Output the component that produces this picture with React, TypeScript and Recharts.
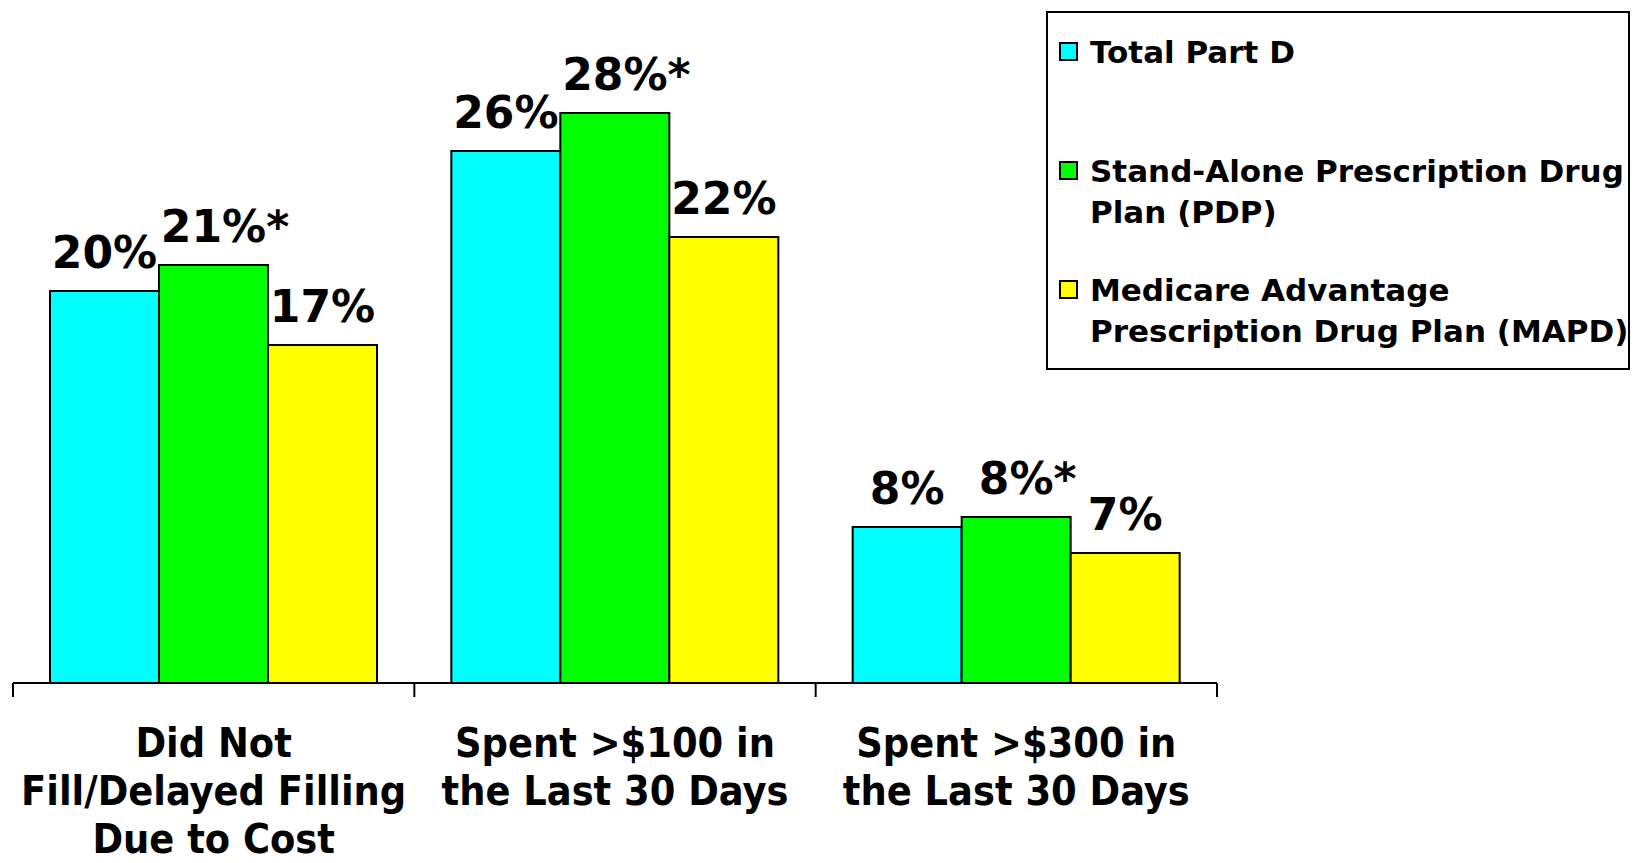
import { BarChart, Bar, XAxis, YAxis, Legend, LabelList } from 'recharts';

const categories = [
    'Did Not Fill/Delayed Filling Due to Cost',
    'Spent >$100 in the Last 30 Days',
    'Spent >$300 in the Last 30 Days',
];
const categoryLines = [
    ['Did Not', 'Fill/Delayed Filling', 'Due to Cost'],
    ['Spent >$100 in', 'the Last 30 Days'],
    ['Spent >$300 in', 'the Last 30 Days'],
];

// bar heights (percent)
const totalPartD = [19.6, 26.6, 7.8];
const standAlonePdp = [20.9, 28.5, 8.3];
const mapd = [16.9, 22.3, 6.5];

// printed labels
const totalLabels = ['20%', '26%', '8%'];
const pdpLabels = ['21%*', '28%*', '8%*'];
const mapdLabels = ['17%', '22%', '7%'];

const seriesNames = [
    'Total Part D',
    'Stand-Alone Prescription Drug Plan (PDP)',
    'Medicare Advantage Prescription Drug Plan (MAPD)',
];
const legendLines = [
    ['Total Part D'],
    ['Stand-Alone Prescription Drug', 'Plan (PDP)'],
    ['Medicare Advantage', 'Prescription Drug Plan (MAPD)'],
];

const COLORS = ['#00FFFF', '#00FF00', '#FFFF00'];

const data = categories.map((name, i) => ({
    name,
    total: totalPartD[i],
    pdp: standAlonePdp[i],
    mapd: mapd[i],
    totalLabel: totalLabels[i],
    pdpLabel: pdpLabels[i],
    mapdLabel: mapdLabels[i],
}));

const LABEL_FONT = 44;
const AXIS_FONT = "'DejaVu Sans Condensed', 'DejaVu Sans', sans-serif";

// rough width of a label like "21%" in DejaVu Sans Bold
function labelWidth(s: string) {
    let w = 0;
    for (const ch of s) w += ch === '%' ? 1.002 : 0.696;
    return w * LABEL_FONT;
}

function BarValueLabel(props: any) {
    const { x, y, width, value } = props;
    const s = String(value);
    const star = s.endsWith('*');
    const main = star ? s.slice(0, -1) : s;
    const cx = Number(x) + Number(width) / 2;
    const ty = Number(y) - 23;
    const style = { fontFamily: "'DejaVu Sans', sans-serif", fontWeight: 700, fontSize: LABEL_FONT, fill: '#000' };
    return (
        <g>
            <text x={cx} y={ty} textAnchor="middle" style={style}>{main}</text>
            {star && <text x={cx + labelWidth(main) / 2} y={ty} textAnchor="start" style={style}>*</text>}
        </g>
    );
}

function CategoryTick(props: any) {
    const { x, y, payload, index, visibleTicksCount } = props;
    const half = payload && payload.offset ? payload.offset : 200.7;
    const idx = categories.indexOf(payload.value);
    const lines = categoryLines[idx >= 0 ? idx : index] || [];
    return (
        <g>
            <line x1={x - half} x2={x - half} y1={y} y2={y + 14} stroke="#000" strokeWidth={2} />
            {index === visibleTicksCount - 1 && (
                <line x1={x + half} x2={x + half} y1={y} y2={y + 14} stroke="#000" strokeWidth={2} />
            )}
            <text
                x={x}
                textAnchor="middle"
                style={{ fontFamily: AXIS_FONT, fontStretch: 'condensed', fontWeight: 700, fontSize: 41, fill: '#000' }}
            >
                {lines.map((l, i) => (
                    <tspan key={i} x={x} y={y + 74 + i * 48}>{l}</tspan>
                ))}
            </text>
        </g>
    );
}

function LegendBox() {
    return (
        <div
            style={{
                width: 584,
                height: 359,
                border: '2px solid #000',
                boxSizing: 'border-box',
                background: '#fff',
                position: 'relative',
                fontFamily: "'DejaVu Sans', sans-serif",
                fontWeight: 700,
                fontSize: 31,
                lineHeight: '40.5px',
                color: '#000',
            }}
        >
            {legendLines.map((lines, i) => (
                <div key={seriesNames[i]} title={seriesNames[i]}>
                    <div
                        style={{
                            position: 'absolute',
                            left: 11,
                            top: 19 + i * 119 + 10,
                            width: 19,
                            height: 19,
                            boxSizing: 'border-box',
                            border: '2px solid #000',
                            background: COLORS[i],
                        }}
                    />
                    <div style={{ position: 'absolute', left: 42, top: 19 + i * 119, whiteSpace: 'nowrap' }}>
                        {lines.map((l) => (
                            <div key={l}>{l}</div>
                        ))}
                    </div>
                </div>
            ))}
        </div>
    );
}

export default function App() {
    return (
        <div style={{ position: 'absolute', left: 0, top: 0, width: 1634, height: 863, background: '#fff' }}>
            <BarChart
                width={1634}
                height={863}
                data={data}
                margin={{ top: 83, right: 417, bottom: 0, left: 13 }}
                barCategoryGap={37}
                barGap={0}
            >
                <YAxis hide domain={[0, 30]} />
                <XAxis
                    dataKey="name"
                    height={180}
                    interval={0}
                    axisLine={{ stroke: '#000', strokeWidth: 2 }}
                    tickLine={false}
                    tickSize={0}
                    tickMargin={0}
                    tick={<CategoryTick />}
                />
                <Legend
                    layout="vertical"
                    align="center"
                    verticalAlign="middle"
                    content={() => <LegendBox />}
                    wrapperStyle={{ left: 1046, top: 11, width: 584, height: 359 }}
                />
                <Bar dataKey="total" name={seriesNames[0]} fill={COLORS[0]} stroke="#000" strokeWidth={2} isAnimationActive={false}>
                    <LabelList dataKey="totalLabel" content={<BarValueLabel />} />
                </Bar>
                <Bar dataKey="pdp" name={seriesNames[1]} fill={COLORS[1]} stroke="#000" strokeWidth={2} isAnimationActive={false}>
                    <LabelList dataKey="pdpLabel" content={<BarValueLabel />} />
                </Bar>
                <Bar dataKey="mapd" name={seriesNames[2]} fill={COLORS[2]} stroke="#000" strokeWidth={2} isAnimationActive={false}>
                    <LabelList dataKey="mapdLabel" content={<BarValueLabel />} />
                </Bar>
            </BarChart>
        </div>
    );
}
